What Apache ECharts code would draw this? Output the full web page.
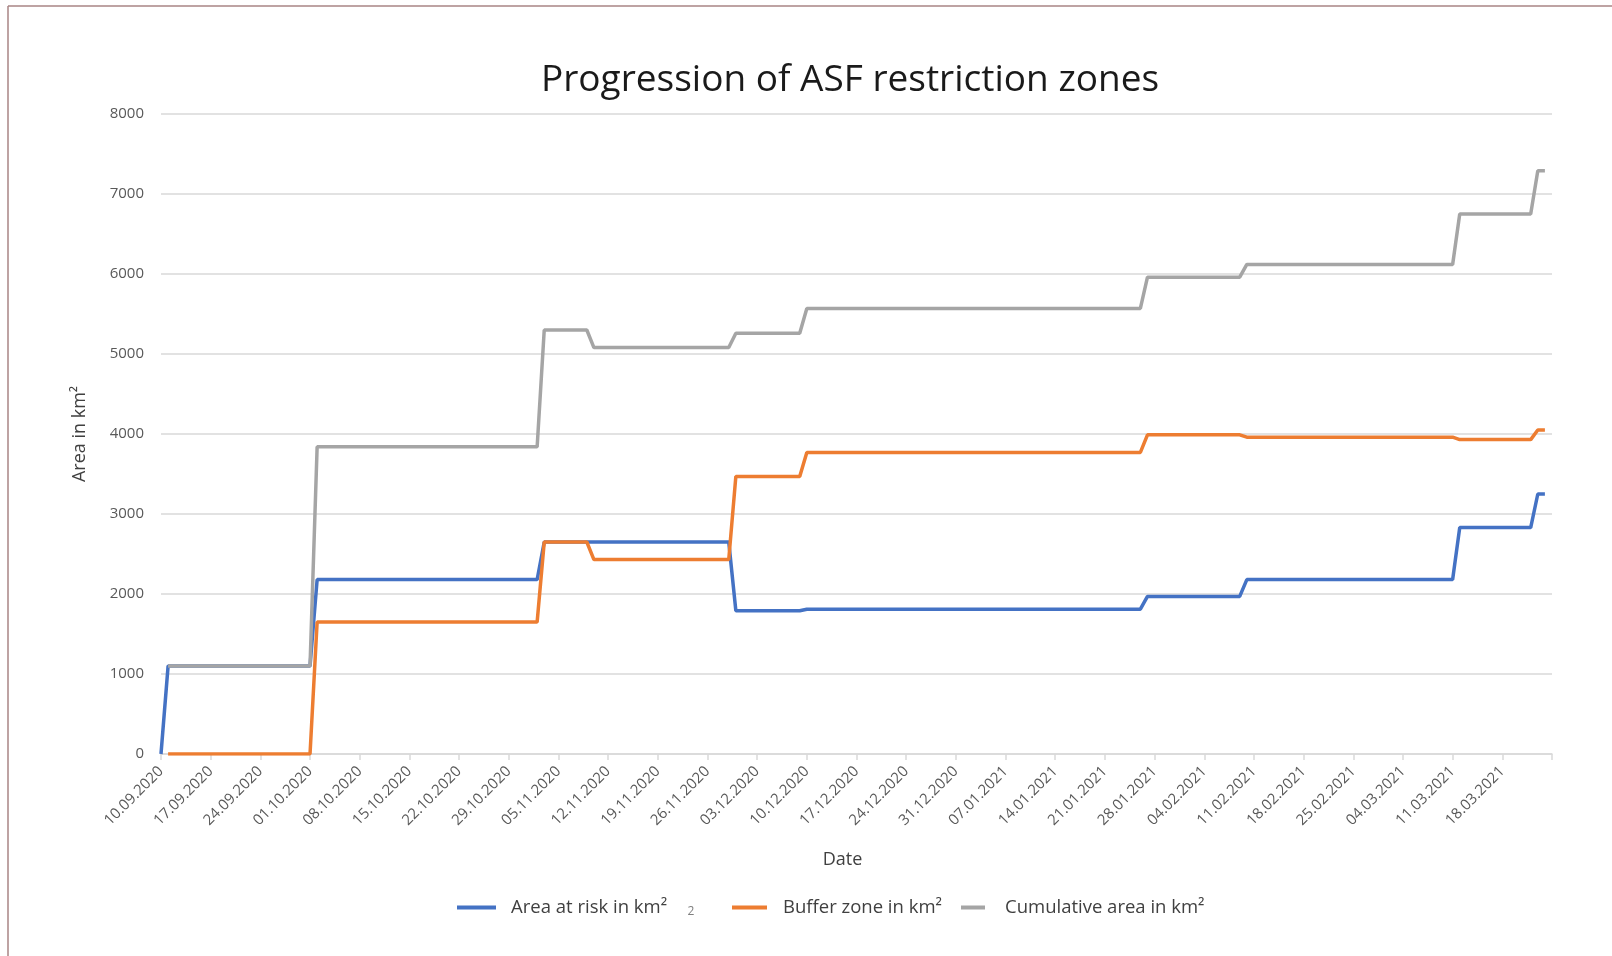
<!DOCTYPE html>
<html lang="en">
<head>
<meta charset="UTF-8" />
<title>Progression of ASF restriction zones</title>
<style>
  html, body { margin: 0; padding: 0; background: #fff; }
  #asf-chart { width: 1612px; height: 956px; }
</style>
</head>
<body>
<div id="asf-chart"></div>
<script src="https://cdn.jsdelivr.net/npm/echarts@6/dist/echarts.min.js"></script>
<script>
// first day on the axis, the axis runs 196 days from it
const startDate = [2020, 9, 10];
const lastDay = 196;

// one label every 7 days
const tickLabels = [
  '10.09.2020', '17.09.2020', '24.09.2020', '01.10.2020', '08.10.2020', '15.10.2020', '22.10.2020',
  '29.10.2020', '05.11.2020', '12.11.2020', '19.11.2020', '26.11.2020', '03.12.2020', '10.12.2020',
  '17.12.2020', '24.12.2020', '31.12.2020', '07.01.2021', '14.01.2021', '21.01.2021', '28.01.2021',
  '04.02.2021', '11.02.2021', '18.02.2021', '25.02.2021', '04.03.2021', '11.03.2021', '18.03.2021'
];

// [date, km²] at each corner of the step lines
const riskArea = [
  ['10.09.2020', 0], ['11.09.2020', 1100], ['01.10.2020', 1100], ['02.10.2020', 2180],
  ['02.11.2020', 2180], ['03.11.2020', 2650], ['29.11.2020', 2650], ['30.11.2020', 1790],
  ['09.12.2020', 1790], ['10.12.2020', 1810], ['26.01.2021', 1810], ['27.01.2021', 1970],
  ['09.02.2021', 1970], ['10.02.2021', 2180], ['11.03.2021', 2180], ['12.03.2021', 2830],
  ['22.03.2021', 2830], ['23.03.2021', 3250], ['24.03.2021', 3250]
];
const bufferZone = [
  ['11.09.2020', 0], ['01.10.2020', 0], ['02.10.2020', 1650], ['02.11.2020', 1650],
  ['03.11.2020', 2650], ['09.11.2020', 2650], ['10.11.2020', 2430], ['29.11.2020', 2430],
  ['30.11.2020', 3470], ['09.12.2020', 3470], ['10.12.2020', 3770], ['26.01.2021', 3770],
  ['27.01.2021', 3990], ['09.02.2021', 3990], ['10.02.2021', 3960], ['11.03.2021', 3960],
  ['12.03.2021', 3930], ['22.03.2021', 3930], ['23.03.2021', 4050], ['24.03.2021', 4050]
];
const cumulativeArea = [
  ['11.09.2020', 1100], ['01.10.2020', 1100], ['02.10.2020', 3840], ['02.11.2020', 3840],
  ['03.11.2020', 5300], ['09.11.2020', 5300], ['10.11.2020', 5080], ['29.11.2020', 5080],
  ['30.11.2020', 5260], ['09.12.2020', 5260], ['10.12.2020', 5570], ['26.01.2021', 5570],
  ['27.01.2021', 5960], ['09.02.2021', 5960], ['10.02.2021', 6120], ['11.03.2021', 6120],
  ['12.03.2021', 6750], ['22.03.2021', 6750], ['23.03.2021', 7290], ['24.03.2021', 7290]
];

const seriesNames = ['Area at risk in km²', 'Buffer zone in km²', 'Cumulative area in km²'];
const seriesColors = ['#4472C4', '#ED7D31', '#A5A5A5'];

// dd.mm.yyyy -> days since the first date
function dayIndex(s) {
  const p = s.split('.');
  const t = Date.UTC(+p[2], +p[1] - 1, +p[0]);
  const t0 = Date.UTC(startDate[0], startDate[1] - 1, startDate[2]);
  return Math.round((t - t0) / 86400000);
}

const font = '"Open Sans", sans-serif';
const chart = echarts.init(document.getElementById('asf-chart'));

function makeLegend(name, left, width, gap) {
  return {
    data: [name],
    left: left,
    top: 898,
    padding: 0,
    icon: 'rect',
    itemWidth: width,
    itemHeight: 4,
    textStyle: { fontFamily: font, fontSize: 18.5, color: '#404040', padding: [0, 0, 0, gap] }
  };
}

const option = {
  backgroundColor: '#fff',
  animation: false,
  grid: { left: 161, right: 60, top: 114, bottom: 202 },
  legend: [
    makeLegend(seriesNames[0], 457, 39, 10),
    makeLegend(seriesNames[1], 732, 35, 11),
    makeLegend(seriesNames[2], 961, 24, 15)
  ],
  xAxis: {
    type: 'value',
    min: 0,
    max: lastDay,
    interval: 7,
    name: 'Date',
    nameLocation: 'middle',
    nameGap: 97,
    nameTextStyle: { fontFamily: font, fontSize: 18, color: '#404040', padding: [0, 28, 0, 0] },
    axisLine: { lineStyle: { color: '#d9d9d9', width: 1.5 } },
    axisTick: { show: true, length: 6, lineStyle: { color: '#d9d9d9', width: 1.5 } },
    splitLine: { show: false },
    axisLabel: {
      rotate: 45,
      margin: 15,
      fontFamily: font,
      fontSize: 15,
      color: '#595959',
      showMinLabel: true,
      showMaxLabel: true,
      formatter: function (v) {
        return tickLabels[Math.round(v / 7)] || '';
      }
    }
  },
  yAxis: {
    type: 'value',
    min: 0,
    max: 8000,
    interval: 1000,
    name: 'Area in km²',
    nameLocation: 'middle',
    nameGap: 72,
    nameTextStyle: { fontFamily: font, fontSize: 18, color: '#404040' },
    axisLine: { show: false },
    axisTick: { show: false },
    axisLabel: {
      margin: 17,
      fontFamily: font,
      fontSize: 15,
      color: '#595959',
      formatter: function (v) { return String(v); }
    },
    splitLine: { lineStyle: { color: '#d9d9d9', width: 1.5 } }
  },
  series: [riskArea, bufferZone, cumulativeArea].map(function (pts, i) {
    return {
      name: seriesNames[i],
      type: 'line',
      symbol: 'none',
      color: seriesColors[i],
      lineStyle: { width: 3.5, color: seriesColors[i] },
      data: pts.map(function (p) { return [dayIndex(p[0]), p[1]]; })
    };
  }),
  graphic: [
    { type: 'line', shape: { x1: 8, y1: 6, x2: 1612, y2: 6 }, style: { stroke: '#a98585', lineWidth: 1.5 } },
    { type: 'line', shape: { x1: 8, y1: 6, x2: 8, y2: 956 }, style: { stroke: '#a98585', lineWidth: 1.5 } },
    {
      type: 'text',
      x: 850,
      y: 80,
      style: {
        text: 'Progression of ASF restriction zones',
        fontFamily: font,
        fontSize: 37,
        fill: '#1a1a1a',
        textAlign: 'center',
        textVerticalAlign: 'middle'
      }
    },
    {
      type: 'text',
      x: 691,
      y: 912,
      style: { text: '2', fontFamily: font, fontSize: 12, fill: '#7f7f7f', textAlign: 'center', textVerticalAlign: 'middle' }
    }
  ]
};

chart.setOption(option);
</script>
</body>
</html>
